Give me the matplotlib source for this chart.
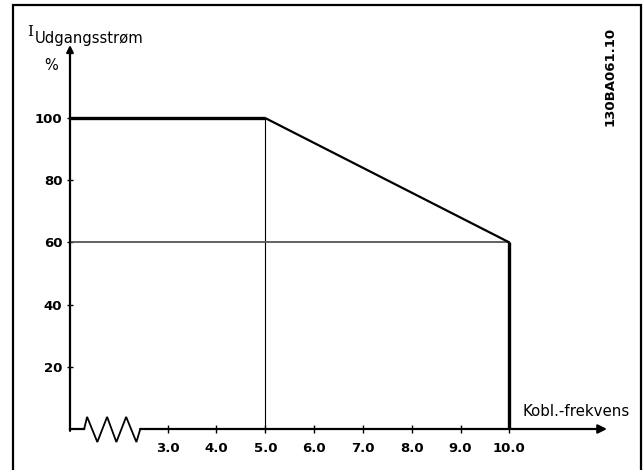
import matplotlib
matplotlib.use("Agg")
import matplotlib.pyplot as plt
from matplotlib.patches import Rectangle

# ---- data ----
x_ticks = [3.0, 4.0, 5.0, 6.0, 7.0, 8.0, 9.0, 10.0]
x_tick_labels = ["3.0", "4.0", "5.0", "6.0", "7.0", "8.0", "9.0", "10.0"]
y_ticks = [20, 40, 60, 80, 100]
y_tick_labels = ["20", "40", "60", "80", "100"]

# derating curve (switching frequency kHz -> output current %)
curve_freq = [1.0, 5.0, 10.0, 10.0]
curve_pct = [100, 100, 60, 0]
curve_lw = [2.4, 1.6, 2.4]

knee_freq = 5.0
knee_pct = 100
end_freq = 10.0
end_pct = 60

x_min, x_max = 1.0, 12.0
y_min, y_max = 0, 123.5

# ---- figure ----
fig = plt.figure(figsize=(6.44, 4.70), dpi=100)
W, H = 644, 470
ax = fig.add_axes([70 / W, 41 / H, 537 / W, 384 / H])
ax.set_xlim(x_min, x_max)
ax.set_ylim(y_min, y_max)
for s in ax.spines.values():
    s.set_visible(False)
ax.patch.set_alpha(0)

# frame around the picture
fig.add_artist(Rectangle((13 / W, -0.05), (641 - 13) / W, 1.05 - 5 / H,
                         transform=fig.transFigure, fill=False, lw=1.6,
                         edgecolor="black"))

# reference lines
ax.plot([knee_freq, knee_freq], [0, knee_pct], color="black", lw=0.8, zorder=2)
ax.plot([x_min, end_freq], [end_pct, end_pct], color="#555555", lw=1.3, zorder=2)

# curve
for i in range(len(curve_freq) - 1):
    ax.plot(curve_freq[i:i + 2], curve_pct[i:i + 2], color="black",
            lw=curve_lw[i], solid_capstyle="butt", zorder=3, clip_on=False)

# y axis with arrow
ax.annotate("", xy=(x_min, y_max), xytext=(x_min, -0.6),
            arrowprops=dict(arrowstyle="-|>", lw=1.6, color="black",
                            mutation_scale=10, shrinkA=0, shrinkB=0),
            annotation_clip=False)

# x axis with break (zigzag) and arrow
zig_x = [1.0, 1.29, 1.35, 1.56, 1.76, 1.95, 2.15, 2.36, 2.44]
zig_y = [0, 0, 3.9, -4.2, 3.9, -4.2, 3.9, -4.2, 0]
ax.plot(zig_x, zig_y, color="black", lw=1.3, clip_on=False,
        solid_joinstyle="miter")
ax.annotate("", xy=(x_max, 0), xytext=(2.44, 0),
            arrowprops=dict(arrowstyle="-|>", lw=1.6, color="black",
                            mutation_scale=13, shrinkA=0, shrinkB=0),
            annotation_clip=False)
ax.plot([x_min, 1.29], [0, 0], color="black", lw=1.6, clip_on=False)

# ticks
ax.set_xticks(x_ticks)
ax.set_xticklabels(x_tick_labels, fontsize=9.5, fontweight="bold")
ax.set_yticks(y_ticks)
ax.set_yticklabels(y_tick_labels, fontsize=9.5, fontweight="bold")
ax.tick_params(axis="x", direction="inout", length=6, width=1, pad=6)
ax.tick_params(axis="y", direction="inout", length=5, width=1, pad=3)

# texts
fig.text(30 / W, 1 - 32 / H, "I", family="DejaVu Serif", fontsize=11,
         ha="center", va="center")
fig.text(35 / W, 1 - 39 / H, "Udgangsstrøm", fontsize=10.6,
         ha="left", va="center")
fig.text(51 / W, 1 - 66 / H, "%", fontsize=10.5, ha="center", va="center")
fig.text(576 / W, 1 - 411 / H, "Kobl.-frekvens", fontsize=10.8,
         ha="center", va="center")
fig.text(610 / W, 1 - 76 / H, "130BA061.10", fontsize=9.5, fontweight="bold",
         rotation=90, ha="center", va="center")

fig.savefig("out.png", dpi=100)
